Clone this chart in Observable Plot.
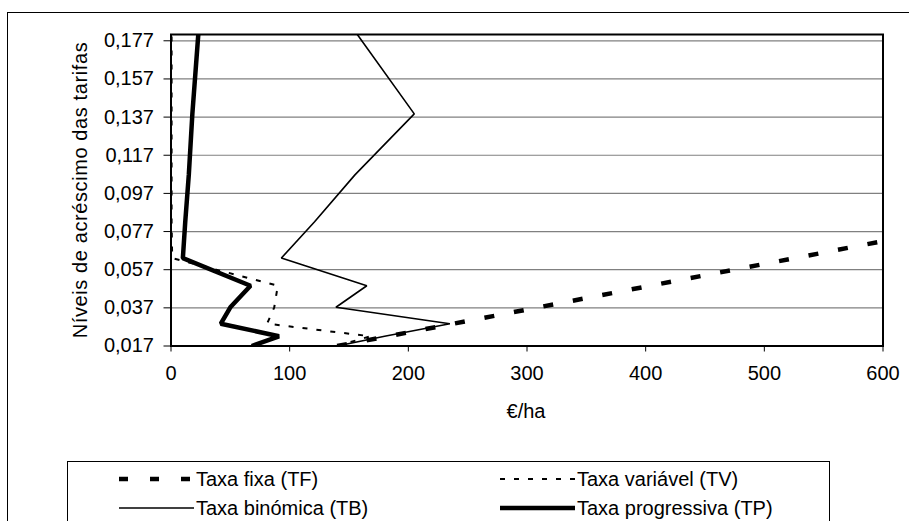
<!DOCTYPE html>
<html><head><meta charset="utf-8">
<script src="https://cdn.jsdelivr.net/npm/d3@7"></script>
<script src="https://cdn.jsdelivr.net/npm/@observablehq/plot@0.6"></script>
<style>
body{margin:0;background:#fff;font-family:"Liberation Sans",Arial,sans-serif;color:#000}
#wrap{position:relative;width:909px;height:521px;overflow:hidden;background:#fff}
#outer{position:absolute;left:7px;top:12px;width:1000px;height:600px;border:1px solid #000;box-sizing:border-box}
#chart{position:absolute;left:0;top:0}
.t{position:absolute;font-size:20px;white-space:nowrap;line-height:1}
#ytitle{left:80px;top:190px;letter-spacing:0.6px;transform:translate(-50%,-50%) rotate(-90deg);}
#xtitle{left:526px;top:411px;transform:translate(-50%,-50%);}
#legend{position:absolute;left:67px;top:461px;width:763px;height:100px;border:1px solid #000;box-sizing:border-box}
#legend svg{position:absolute;left:0;top:0;overflow:visible}
</style></head>
<body><div id="wrap"><div id="outer"></div><div id="chart"></div>
<div class="t" id="ytitle">Níveis de acréscimo das tarifas</div>
<div class="t" id="xtitle">€/ha</div>
<div id="legend"></div>
</div>
<script>
// Tariff increase levels (y)
const levels = [0.017, 0.0221, 0.0287, 0.0373, 0.0486, 0.0631, 0.0821, 0.1067, 0.1387, 0.1803];
// €/ha per series
const taxaFixa = [140, 183, 238, 310, 404, 526, 684, 889, 1155, 1503];
const taxaVariavel = [140, 168, 81, 87, 90, 1, 0.5, 0.5, 0.5, 0.5];
const taxaBinomica = [140, 180, 235, 139, 165, 93, 121, 155, 205, 157];
const taxaProgressiva = [68, 91, 42, 50, 67, 10, 12, 15, 18, 23];
const xTicks = [0, 100, 200, 300, 400, 500, 600];
const yTicks = [0.017, 0.037, 0.057, 0.077, 0.097, 0.117, 0.137, 0.157, 0.177];
const seriesNames = ["Taxa fixa (TF)", "Taxa variável (TV)", "Taxa binómica (TB)", "Taxa progressiva (TP)"];

const styles = {
  "Taxa fixa (TF)": {strokeWidth: 4.5, strokeDasharray: "10,20"},
  "Taxa variável (TV)": {strokeWidth: 2, strokeDasharray: "5,9"},
  "Taxa binómica (TB)": {strokeWidth: 1.6, strokeDasharray: null},
  "Taxa progressiva (TP)": {strokeWidth: 4.5, strokeDasharray: null}
};
const values = [taxaFixa, taxaVariavel, taxaBinomica, taxaProgressiva];
const rows = (arr) => levels.map((y, i) => ({x: arr[i], y}));

const H = 455;
const mTop = 34, mBottom = 345.5, mLeft = 170.5, mRight = 882.5;
const fmt = d => d.toFixed(3).replace(".", ",");

const order = [2, 1, 0, 3];
const lineMarks = order.map(i => Plot.line(rows(values[i]), {
  x: "x", y: "y", stroke: "#000", clip: true,
  strokeWidth: styles[seriesNames[i]].strokeWidth,
  strokeDasharray: styles[seriesNames[i]].strokeDasharray,
  strokeLinejoin: "miter", strokeLinecap: "butt"
}));

const chart = Plot.plot({
  width: 909, height: H,
  marginLeft: mLeft, marginRight: 909 - mRight, marginTop: mTop, marginBottom: H - mBottom,
  style: {fontFamily: "Liberation Sans, Arial, sans-serif", fontSize: "20px", color: "#000", background: "transparent", overflow: "visible"},
  x: {domain: [0, 600]},
  y: {domain: [0.017, 0.1803]},
  marks: [
    Plot.ruleY(yTicks.slice(1), {stroke: "#808080", strokeWidth: 1.2}),
    ...lineMarks,
    Plot.frame({stroke: "#000", strokeWidth: 2}),
    Plot.axisX({ticks: xTicks, tickSize: 6, tickPadding: 14, label: null, tickFormat: d => String(d)}),
    Plot.axisY({ticks: yTicks, tickSize: 7, tickPadding: 10, label: null, tickFormat: fmt})
  ]
});
document.getElementById("chart").appendChild(chart);

// Legend
const lg = d3.select("#legend").append("svg").attr("width", 763).attr("height", 100);
const items = [
  {name: seriesNames[0], x: 51, y: 17},
  {name: seriesNames[1], x: 432, y: 17},
  {name: seriesNames[2], x: 51, y: 46},
  {name: seriesNames[3], x: 432, y: 46}
];
items.forEach(it => {
  const s = styles[it.name];
  lg.append("line").attr("x1", it.x).attr("x2", it.x + 75).attr("y1", it.y).attr("y2", it.y)
    .attr("stroke", "#000").attr("stroke-width", s.strokeWidth)
    .attr("stroke-dasharray", s.strokeDasharray === "10,20" ? "9,22" : s.strokeDasharray);
  lg.append("text").attr("x", it.x + 77).attr("y", it.y).attr("dy", "0.35em")
    .attr("font-size", 20).attr("font-family", "Liberation Sans, Arial, sans-serif").text(it.name);
});
</script></body></html>
